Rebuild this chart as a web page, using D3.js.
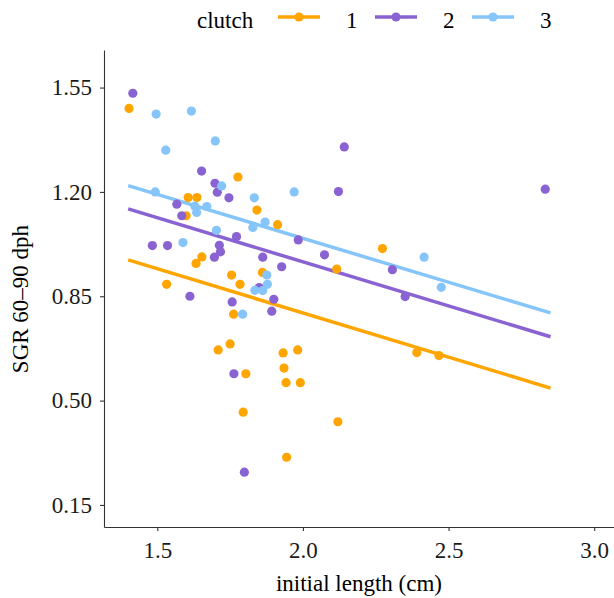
<!DOCTYPE html>
<html>
<head>
<meta charset="utf-8">
<script src="https://cdn.jsdelivr.net/npm/d3@7"></script>
<style>
  body { margin: 0; background: #fff; }
  svg text { font-family: 'Liberation Serif', 'Tinos', 'Times New Roman', 'DejaVu Serif', serif !important; }
</style>
</head>
<body>
<div id="chart"></div>
<script>
const clutches = ['1', '2', '3']
const colors = ['#ffa500', '#8a63d2', '#86c5fa']

// initial length (cm) and SGR 60-90 dph, one pair of arrays per clutch
const lengths1 = [1.403, 1.777, 1.606, 1.636, 1.842, 1.599, 1.913, 1.653, 1.633, 2.116, 2.273, 1.861, 1.755, 1.784, 1.532, 1.762, 1.750, 1.709, 1.932, 1.982, 1.935, 1.804, 1.942, 1.991, 1.795, 2.120, 1.944, 2.391, 2.467]
const sgr1 = [1.480, 1.250, 1.181, 1.181, 1.139, 1.120, 1.090, 0.982, 0.960, 0.941, 1.010, 0.930, 0.921, 0.890, 0.890, 0.790, 0.690, 0.670, 0.660, 0.670, 0.609, 0.590, 0.560, 0.560, 0.461, 0.429, 0.310, 0.661, 0.651]

const lengths2 = [1.416, 1.652, 1.698, 1.706, 1.746, 1.567, 1.584, 1.772, 1.483, 1.535, 1.713, 1.717, 1.696, 1.862, 1.984, 2.074, 1.927, 1.850, 1.612, 1.757, 1.900, 1.893, 1.763, 1.799, 2.142, 2.122, 2.307, 2.351, 2.832]
const sgr2 = [1.531, 1.270, 1.229, 1.199, 1.180, 1.159, 1.120, 1.050, 1.020, 1.020, 1.021, 0.999, 0.981, 0.981, 1.039, 0.989, 0.949, 0.879, 0.850, 0.831, 0.840, 0.800, 0.590, 0.260, 1.351, 1.201, 0.939, 0.849, 1.209]

const lengths3 = [1.496, 1.617, 1.699, 1.529, 1.721, 1.970, 1.493, 1.833, 1.629, 1.670, 1.635, 1.870, 1.828, 1.703, 1.588, 1.876, 1.878, 1.835, 1.862, 1.793, 2.416, 2.475]
const sgr3 = [1.461, 1.471, 1.371, 1.340, 1.220, 1.200, 1.200, 1.180, 1.152, 1.151, 1.131, 1.099, 1.081, 1.071, 1.030, 0.921, 0.890, 0.870, 0.869, 0.790, 0.981, 0.880]

// fitted lines: ends at x = 1.40 and 2.85
const fitX = [1.4, 2.85]
const fit1 = [0.972, 0.542]
const fit2 = [1.143, 0.714]
const fit3 = [1.221, 0.794]

const xTicks = [1.5, 2.0, 2.5, 3.0]
const yTicks = [0.15, 0.5, 0.85, 1.2, 1.55]

const serif = "'Liberation Serif', 'Tinos', 'Times New Roman', 'DejaVu Serif', serif"

const width = 614
const height = 598
const margin = { top: 50, left: 104, right: 0, bottom: 71 }

const svg = d3
  .select('#chart')
  .append('svg')
  .attr('width', width)
  .attr('height', height)
  .attr('font-family', serif)

const xPositionScale = d3
  .scaleLinear()
  .domain([1.317, 3.068])
  .range([margin.left, width - margin.right])

const yPositionScale = d3
  .scaleLinear()
  .domain([0.076, 1.676])
  .range([height - margin.bottom, margin.top])

const colorScale = d3.scaleOrdinal().domain(clutches).range(colors)

const groups = [
  { clutch: '1', xs: lengths1, ys: sgr1, fit: fit1 },
  { clutch: '2', xs: lengths2, ys: sgr2, fit: fit2 },
  { clutch: '3', xs: lengths3, ys: sgr3, fit: fit3 }
]

const line = d3
  .line()
  .x(d => xPositionScale(d[0]))
  .y(d => yPositionScale(d[1]))

// regression lines
svg
  .selectAll('.fit')
  .data(groups)
  .enter()
  .append('path')
  .attr('class', 'fit')
  .attr('d', d => line(fitX.map((x, i) => [x, d.fit[i]])))
  .attr('fill', 'none')
  .attr('stroke', d => colorScale(d.clutch))
  .attr('stroke-width', 3.5)

// points
groups.forEach(g => {
  const points = g.xs.map((x, i) => ({ x: x, y: g.ys[i] }))
  svg
    .selectAll('.dot-' + g.clutch)
    .data(points)
    .enter()
    .append('circle')
    .attr('class', 'dot-' + g.clutch)
    .attr('cx', d => xPositionScale(d.x))
    .attr('cy', d => yPositionScale(d.y))
    .attr('r', 4.6)
    .attr('fill', colorScale(g.clutch))
})

// axes
const xAxis = d3
  .axisBottom(xPositionScale)
  .tickValues(xTicks)
  .tickFormat(d3.format('.1f'))
  .tickSizeInner(4)
  .tickSizeOuter(0)
  .tickPadding(11)

const yAxis = d3
  .axisLeft(yPositionScale)
  .tickValues(yTicks)
  .tickFormat(d3.format('.2f'))
  .tickSizeInner(4)
  .tickSizeOuter(0)
  .tickPadding(8)

svg
  .append('g')
  .attr('class', 'x-axis')
  .attr('transform', 'translate(0,' + (height - margin.bottom) + ')')
  .call(xAxis)

svg
  .append('g')
  .attr('class', 'y-axis')
  .attr('transform', 'translate(' + margin.left + ',0)')
  .call(yAxis)

svg.selectAll('.x-axis, .y-axis').attr('font-family', serif)
svg.selectAll('.domain').attr('stroke', '#333').attr('stroke-width', 1.1)
svg.selectAll('.tick line').attr('stroke', '#333').attr('stroke-width', 1.1)
svg
  .selectAll('.tick text')
  .attr('font-size', 23)
  .attr('fill', '#1a1a1a')

// axis titles
svg
  .append('text')
  .attr('x', (margin.left + width - margin.right) / 2)
  .attr('y', 591)
  .attr('text-anchor', 'middle')
  .attr('font-size', 23)
  .attr('fill', '#000')
  .text('initial length (cm)')

svg
  .append('text')
  .attr('transform', 'translate(28,' + 299 + ') rotate(-90)')
  .attr('text-anchor', 'middle')
  .attr('font-size', 23)
  .attr('fill', '#000')
  .text('SGR 60–90 dph')

// legend
const legend = svg.append('g').attr('class', 'legend')

legend
  .append('text')
  .attr('x', 197)
  .attr('y', 28)
  .attr('font-size', 23)
  .text('clutch')

const keys = legend
  .selectAll('.key')
  .data(clutches)
  .enter()
  .append('g')
  .attr('class', 'key')
  .attr('transform', (d, i) => 'translate(' + (278 + i * 97) + ',17)')

keys
  .append('line')
  .attr('x1', 0)
  .attr('x2', 42)
  .attr('stroke', d => colorScale(d))
  .attr('stroke-width', 3.5)

keys
  .append('circle')
  .attr('cx', 21)
  .attr('r', 4.6)
  .attr('fill', d => colorScale(d))

keys
  .append('text')
  .attr('x', 68)
  .attr('y', 11)
  .attr('font-size', 23)
  .text(d => d)
</script>
</body>
</html>
